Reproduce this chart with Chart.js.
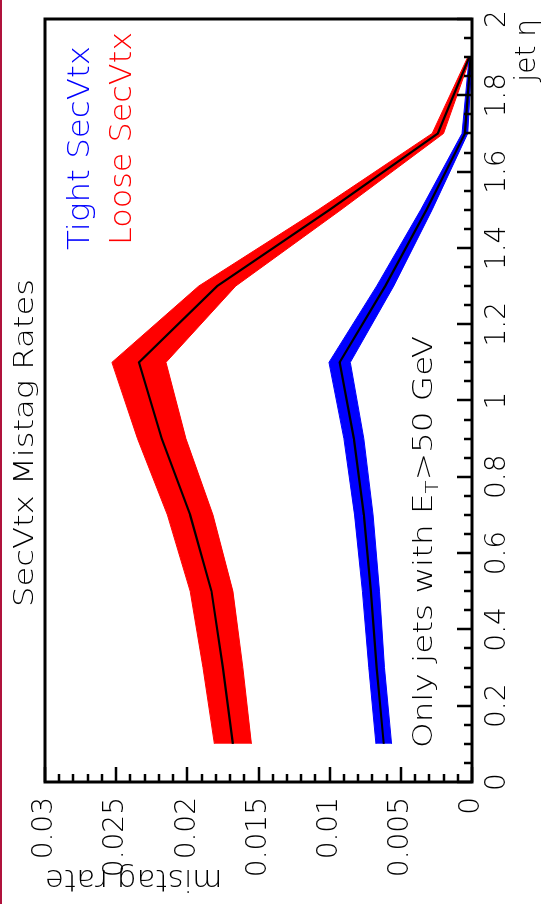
<!DOCTYPE html>
<html>
<head>
<meta charset="utf-8">
<script src="https://cdn.jsdelivr.net/npm/chart.js@4/dist/chart.umd.min.js"></script>
<style>
  html, body { margin: 0; padding: 0; background: #fff; width: 554px; height: 904px; overflow: hidden; }
  #edge { position: absolute; left: 0; top: 0; width: 2px; height: 904px; background: #b0123c; }
  /* the plot is laid out landscape and turned a quarter turn counter-clockwise */
  #turn { position: absolute; left: 0; top: 0; width: 904px; height: 554px;
          transform-origin: 0 0; transform: translate(0, 904px) rotate(-90deg); }
  canvas { display: block; }
</style>
</head>
<body>
<div id="turn"><canvas id="plot" width="904" height="554"></canvas></div>
<div id="edge"></div>
<script>
// jet eta bin centres
const etaBins = [0.1, 0.3, 0.5, 0.7, 0.9, 1.1, 1.3, 1.5, 1.7, 1.9];

// Tight SecVtx mistag rate and its uncertainty
const tightRate = [0.0062, 0.0067, 0.0071, 0.0076, 0.0083, 0.0093, 0.0061, 0.0032, 0.0005, 0.0001];
const tightErr  = [0.00055, 0.00055, 0.0006, 0.00065, 0.0007, 0.00075, 0.0006, 0.0004, 0.0002, 0.0001];

// Loose SecVtx mistag rate and its uncertainty
const looseRate = [0.0168, 0.0175, 0.0183, 0.0198, 0.0218, 0.0234, 0.0179, 0.0100, 0.0024, 0.0002];
const looseErr  = [0.0013, 0.0014, 0.0015, 0.0016, 0.0017, 0.0019, 0.0013, 0.0008, 0.0004, 0.0001];

// axis ticks
const etaTicks = [0, 0.2, 0.4, 0.6, 0.8, 1, 1.2, 1.4, 1.6, 1.8, 2];
const etaTickLabels = ['0', '0.2', '0.4', '0.6', '0.8', '1', '1.2', '1.4', '1.6', '1.8', '2'];
const rateTicks = [0, 0.005, 0.01, 0.015, 0.02, 0.025, 0.03];
const rateTickLabels = ['0', '0.005', '0.01', '0.015', '0.02', '0.025', '0.03'];

const FONT = '"DejaVu Sans", sans-serif';
const WEIGHT = 200;

const centre = rate => rate.map((r, i) => ({ x: etaBins[i], y: r }));
const edge = (rate, err, s) => rate.map((r, i) => ({ x: etaBins[i], y: r + s * err[i] }));

// text drawn with a horizontal stretch so it spans a given length
function stretchText(ctx, parts, x, y, width, color) {
  ctx.save();
  ctx.fillStyle = color;
  ctx.textBaseline = 'alphabetic';
  ctx.textAlign = 'left';
  let natural = 0;
  for (const p of parts) { ctx.font = WEIGHT + ' ' + p.size + 'px ' + FONT; natural += ctx.measureText(p.t).width; }
  ctx.translate(x, y);
  ctx.scale(width / natural, 1);
  let cx = 0;
  for (const p of parts) {
    ctx.font = WEIGHT + ' ' + p.size + 'px ' + FONT;
    ctx.fillText(p.t, cx, p.dy || 0);
    cx += ctx.measureText(p.t).width;
  }
  ctx.restore();
}

const decorations = {
  id: 'decorations',
  afterDraw(chart) {
    const { ctx, chartArea: a, scales: { x, y } } = chart;
    ctx.save();
    ctx.strokeStyle = '#000';
    // tick marks pointing into the frame
    ctx.lineWidth = 2.5;
    ctx.beginPath();
    for (let i = 0; i <= 40; i++) {
      const px = Math.round(x.getPixelForValue(i * 0.05));
      const len = i % 4 === 0 ? 15 : 8;
      ctx.moveTo(px, a.bottom); ctx.lineTo(px, a.bottom - len);
    }
    for (let i = 0; i <= 30; i++) {
      const py = Math.round(y.getPixelForValue(i * 0.001));
      const len = i % 5 === 0 ? 15 : 8;
      ctx.moveTo(a.left, py); ctx.lineTo(a.left + len, py);
    }
    ctx.stroke();
    // frame
    ctx.lineWidth = 3;
    ctx.strokeRect(a.left, a.top, a.right - a.left, a.bottom - a.top);
    ctx.restore();

    stretchText(ctx, [{ t: 'SecVtx Mistag Rates', size: 27 }], 297, 33, 328, '#000');
    stretchText(ctx, [{ t: 'Tight SecVtx', size: 30 }], 654, 89, 204, '#0000ff');
    stretchText(ctx, [{ t: 'Loose SecVtx', size: 30 }], 659, 131, 213, '#ff0000');
    stretchText(ctx, [
      { t: 'Only jets with E', size: 26 },
      { t: 'T', size: 17, dy: 6 },
      { t: '>50 GeV', size: 26 }
    ], 156, 432, 412, '#000');
  }
};

new Chart(document.getElementById('plot'), {
  type: 'line',
  data: {
    datasets: [
      { data: centre(looseRate), borderColor: '#000', borderWidth: 2.2, pointRadius: 0, fill: false, order: 0 },
      { data: centre(tightRate), borderColor: '#000', borderWidth: 2.2, pointRadius: 0, fill: false, order: 0 },
      { data: edge(looseRate, looseErr, 1), borderColor: '#ff0000', borderWidth: 1, backgroundColor: '#ff0000', pointRadius: 0, fill: '+1', order: 2 },
      { data: edge(looseRate, looseErr, -1), borderColor: '#ff0000', borderWidth: 1, pointRadius: 0, fill: false, order: 2 },
      { data: edge(tightRate, tightErr, 1), borderColor: '#0000ff', borderWidth: 1, backgroundColor: '#0000ff', pointRadius: 0, fill: '+1', order: 1 },
      { data: edge(tightRate, tightErr, -1), borderColor: '#0000ff', borderWidth: 1, pointRadius: 0, fill: false, order: 1 }
    ]
  },
  options: {
    responsive: false,
    devicePixelRatio: 1,
    animation: false,
    events: [],
    layout: { padding: { top: 45, right: 19, left: 0, bottom: 0 } },
    plugins: { legend: { display: false }, tooltip: { enabled: false }, title: { display: false } },
    elements: { line: { tension: 0 } },
    scales: {
      x: {
        type: 'linear', min: 0, max: 2,
        afterBuildTicks: s => { s.ticks = etaTicks.map(v => ({ value: v })); },
        afterFit: s => { s.height = 82; },
        ticks: { callback: (v, i) => etaTickLabels[i], font: { family: FONT, size: 28, weight: WEIGHT }, color: '#000', padding: 9, maxRotation: 0, autoSkip: false },
        grid: { display: false, drawTicks: false },
        border: { display: false },
        title: { display: true, text: 'jet η', align: 'end', color: '#000', font: { family: FONT, size: 28, weight: WEIGHT }, padding: { top: 0, bottom: 9 } }
      },
      y: {
        type: 'linear', min: 0, max: 0.03,
        afterBuildTicks: s => { s.ticks = rateTicks.map(v => ({ value: v })); },
        afterFit: s => { s.width = 122; },
        ticks: { callback: (v, i) => rateTickLabels[i], font: { family: FONT, size: 28, weight: WEIGHT }, color: '#000', padding: 15, autoSkip: false },
        grid: { display: false, drawTicks: false },
        border: { display: false },
        title: { display: true, text: 'mistag rate', align: 'end', color: '#000', font: { family: FONT, size: 31, weight: WEIGHT }, padding: { top: 7, bottom: 0 } }
      }
    }
  },
  plugins: [decorations]
});
</script>
</body>
</html>
